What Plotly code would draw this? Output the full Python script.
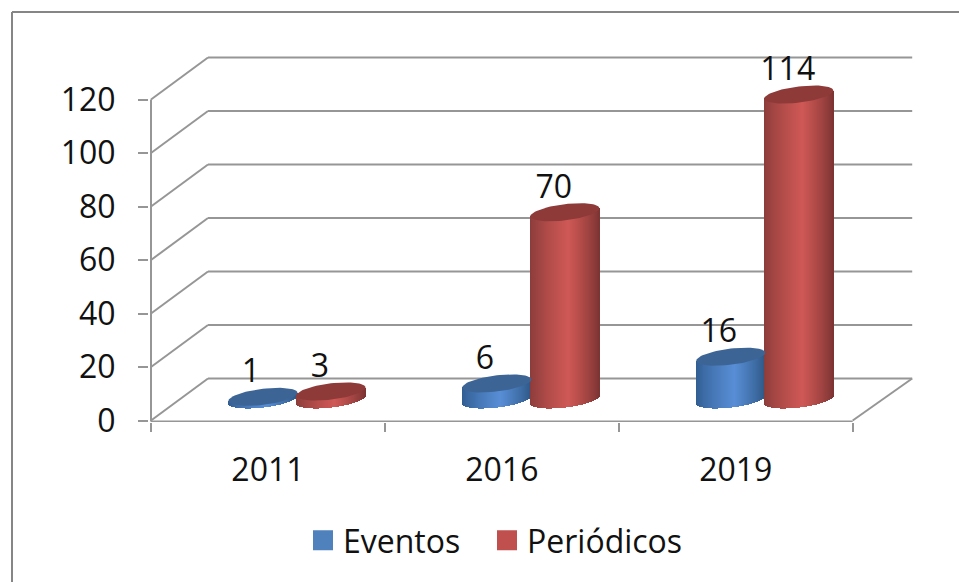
import math
import plotly.graph_objects as go

categories = ["2011", "2016", "2019"]
eventos = [1, 6, 16]
periodicos = [3, 70, 114]
y_ticks = [0, 20, 40, 60, 80, 100, 120]

FONT = "Open Sans"
FSIZE = 32
GREY = "#969696"
PX_X = 233.9   # px per category slot
PX_Y = 2.675   # px per value unit
W, H = 959, 582
L, R, T, B = 149, 40, 50, 160
X0_PX, Y0_PX = 151, 420.5
DX, DY = 57 / PX_X, 42 / PX_Y
DX_R = 59.5 / PX_X         # back-wall offset at the right end
A = 34.5 / PX_X            # half width of a cylinder
B_E = 8.1 / PX_Y           # half height of a cap
TILT = 4.0 / PX_Y          # rise of the cap from centre to right
BASE = 21 / PX_Y           # floor depth of the cylinder base
SHIFT = 34.5 / PX_X        # centre offset of each series from slot centre
SHIFT_B = 33.5 / PX_X


def mix(c1, c2, f):
    return "#%02x%02x%02x" % tuple(round(a + (b - a) * f) for a, b in zip(c1, c2))


def add_body(fig, centre, value, edge_l, mid, edge_r):
    n = 70
    xs, h, base, colors = [], [], [], []
    for i in range(n):
        u = -1 + (i + 0.5) * 2 / n
        xs.append(centre + u * A)
        low = BASE + TILT * u - B_E * math.sqrt(1 - u * u)
        top = BASE + value + TILT * u
        base.append(low)
        h.append(top - low)
        peak = 0.12
        if u < peak:
            f = (u + 1) / (1 + peak)
            colors.append(mix(edge_l, mid, f ** 0.8))
        else:
            f = (1 - u) / (1 - peak)
            colors.append(mix(edge_r, mid, f ** 0.8))
    fig.add_trace(go.Bar(x=xs, y=h, base=base, width=2.6 * A / n,
                         marker=dict(color=colors, line=dict(width=0)),
                         showlegend=False, hoverinfo="skip"))


def add_cap(fig, centre, value, color):
    xs, ys = [], []
    for k in range(73):
        t = 2 * math.pi * k / 72
        xs.append(centre + A * math.cos(t))
        ys.append(BASE + value + TILT * math.cos(t) + B_E * math.sin(t))
    fig.add_trace(go.Scatter(x=xs, y=ys, mode="lines", fill="toself", fillcolor=color,
                             line=dict(width=0, color=color),
                             showlegend=False, hoverinfo="skip"))


fig = go.Figure()

BLUE = dict(l=(0x30, 0x5c, 0x90), m=(0x58, 0x8e, 0xd6), r=(0x2c, 0x55, 0x82), cap="#3c6596")
RED = dict(l=(0x8a, 0x3c, 0x3a), m=(0xcf, 0x58, 0x55), r=(0x7a, 0x33, 0x32), cap="#8e3a38")

slots = list(range(len(categories)))
for s in slots:
    c = s + 0.5 + DX / 2
    add_body(fig, c - SHIFT_B, eventos[s], BLUE["l"], BLUE["m"], BLUE["r"])
    add_cap(fig, c - SHIFT_B, eventos[s], BLUE["cap"])
for s in slots:
    c = s + 0.5 + DX / 2
    add_body(fig, c + SHIFT, periodicos[s], RED["l"], RED["m"], RED["r"])
    add_cap(fig, c + SHIFT, periodicos[s], RED["cap"])

# data labels
lx, ly, lt = [], [], []
for s in slots:
    c = s + 0.5 + DX / 2
    for val, sign in ((eventos[s], -1), (periodicos[s], 1)):
        lx.append(c + sign * SHIFT - 11 / PX_X)
        ly.append(BASE + val + 22.5 / PX_Y)
        lt.append(str(val))
fig.add_trace(go.Scatter(x=lx, y=ly, text=lt, mode="text", textposition="middle center",
                         textfont=dict(family=FONT, size=FSIZE, color="#111111"),
                         showlegend=False, hoverinfo="skip"))

# legend entries
fig.add_trace(go.Scatter(x=[None], y=[None], mode="markers", name="Eventos", legend="legend",
                         showlegend=True,
                         marker=dict(symbol="square", size=16, color="#4f81bd",
                                     line=dict(width=4, color="#4f81bd"))))
fig.add_trace(go.Scatter(x=[None], y=[None], mode="markers", name="Periódicos", legend="legend2",
                         showlegend=True,
                         marker=dict(symbol="square", size=16, color="#c0504d",
                                     line=dict(width=4, color="#c0504d"))))

# walls, floor
shapes = []
line = dict(color=GREY, width=2)
n_cat = len(categories)
for v in y_ticks[1:]:
    shapes.append(dict(type="line", xref="x", yref="y", x0=0, y0=v, x1=DX, y1=v + DY, line=line, layer="below"))
    shapes.append(dict(type="line", xref="x", yref="y", x0=DX, y0=v + DY, x1=n_cat + DX_R, y1=v + DY, line=line, layer="below"))
shapes.append(dict(type="line", xref="x", yref="y", x0=0, y0=0, x1=DX, y1=DY, line=line, layer="below"))
shapes.append(dict(type="line", xref="x", yref="y", x0=DX, y0=DY, x1=n_cat + DX_R, y1=DY, line=line, layer="below"))
shapes.append(dict(type="line", xref="x", yref="y", x0=n_cat + DX_R, y0=DY, x1=n_cat, y1=0, line=line, layer="below"))
shapes.append(dict(type="line", xref="x", yref="y", x0=0, y0=-0.4, x1=n_cat, y1=-0.4, line=line, layer="below"))
shapes.append(dict(type="line", xref="x", yref="y", x0=0, y0=-0.4, x1=0, y1=y_ticks[-1], line=line, layer="below"))

# outer frame, in paper fractions of the plot area
pw, ph = W - L - R, H - T - B
fx = lambda px: (px - L) / pw
fy = lambda py: 1 - (py - T) / ph
frame = dict(color="#868686", width=2)
shapes.append(dict(type="line", xref="paper", yref="paper", x0=fx(12), y0=fy(12), x1=fx(959), y1=fy(12), line=frame))
shapes.append(dict(type="line", xref="paper", yref="paper", x0=fx(12), y0=fy(12), x1=fx(12), y1=fy(582), line=frame))

legend_common = dict(orientation="h", y=fy(513), xanchor="left", yanchor="top",
                     font=dict(family=FONT, size=FSIZE, color="#111111"),
                     bgcolor="rgba(0,0,0,0)")

fig.update_layout(
    width=W, height=H, autosize=False,
    margin=dict(l=L, r=R, t=T, b=B, pad=0),
    paper_bgcolor="white", plot_bgcolor="white",
    barmode="overlay", bargap=0,
    shapes=shapes,
    font=dict(family=FONT, size=FSIZE, color="#111111"),
    legend=dict(x=fx(303), **legend_common),
    legend2=dict(x=fx(487), **legend_common),
    xaxis=dict(range=[(L - X0_PX) / PX_X, (W - R - X0_PX) / PX_X],
               tickvals=[s + 0.5 for s in slots], ticktext=categories,
               ticks="", ticklen=0, showgrid=False, zeroline=False, showline=False,
               ticklabelstandoff=26,
               minor=dict(tickvals=slots + [n_cat], ticks="outside", ticklen=9, tickwidth=2,
                          tickcolor=GREY, showgrid=False),
               tickfont=dict(family=FONT, size=FSIZE, color="#111111"), fixedrange=True),
    yaxis=dict(range=[(Y0_PX - (H - B)) / PX_Y, (Y0_PX - T) / PX_Y],
               tickvals=y_ticks, ticks="outside", ticklen=10, tickwidth=2, tickcolor=GREY,
               ticklabelstandoff=16, showgrid=False, zeroline=False, showline=False,
               tickfont=dict(family=FONT, size=FSIZE, color="#111111"), fixedrange=True),
)

fig.write_html("out.html", config={"displayModeBar": False},
               post_script="document.body.style.margin='0';document.documentElement.style.overflow='hidden';")
